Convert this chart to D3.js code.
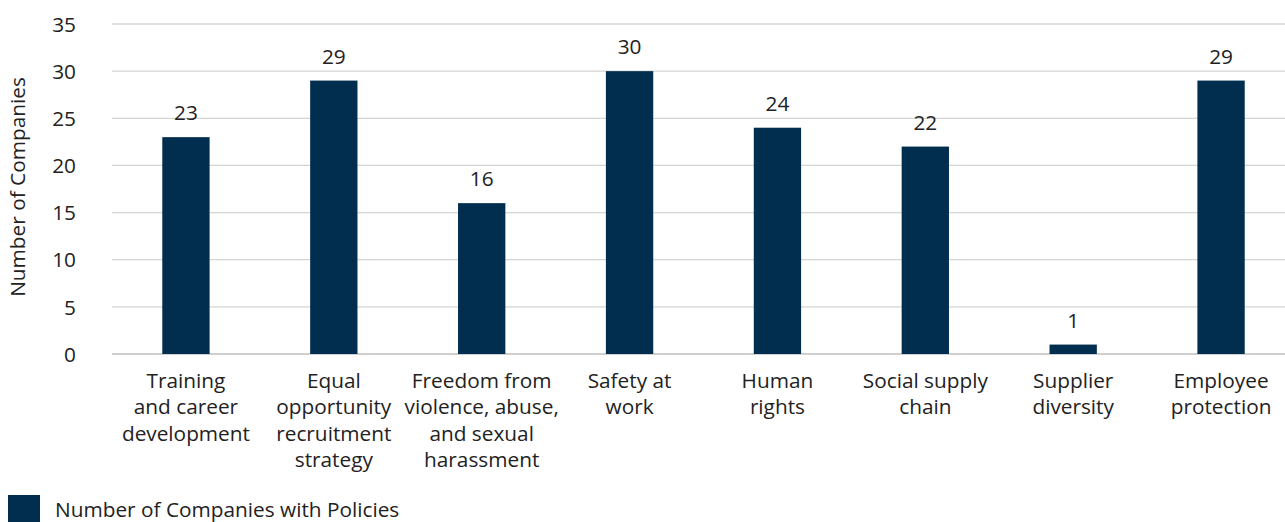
<!DOCTYPE html>
<html><head><meta charset="utf-8">
<script src="https://cdn.jsdelivr.net/npm/d3@7"></script>
<style>body{margin:0;background:#fff}svg{display:block}text{font-family:"Open Sans","Noto Sans",sans-serif;fill:#222}</style>
</head><body><svg id="c" width="1285" height="522"></svg>
<script>
const categories = [
  ["Training","and career","development"],
  ["Equal","opportunity","recruitment","strategy"],
  ["Freedom from","violence, abuse,","and sexual","harassment"],
  ["Safety at","work"],
  ["Human","rights"],
  ["Social supply","chain"],
  ["Supplier","diversity"],
  ["Employee","protection"]
];
const values = [23, 29, 16, 30, 24, 22, 1, 29];
const yTicks = [0, 5, 10, 15, 20, 25, 30, 35];
const seriesName = "Number of Companies with Policies";
const yTitle = "Number of Companies";

const FS = "20.8px";
const svg = d3.select("#c");
const color = "#012e4f";
const x = d3.scaleBand().domain(d3.range(categories.length)).range([112, 1295]).paddingInner(0.68).paddingOuter(0.34);
const y = d3.scaleLinear().domain([0, 35]).range([354, 24]);

svg.append("g").selectAll("line").data(yTicks).join("line")
  .attr("x1", 112).attr("x2", 1285)
  .attr("y1", d => y(d)).attr("y2", d => y(d))
  .attr("stroke", d => d === 0 ? "#bfbfbf" : "#d4d4d4").attr("stroke-width", 1.3);

const yAxis = d3.axisLeft(y).tickValues(yTicks).tickSize(0).tickPadding(0);
const gy = svg.append("g").attr("transform", "translate(76,0)").call(yAxis);
gy.select(".domain").remove();
gy.selectAll("text").style("font-size", FS).attr("fill", "#222").attr("dy", "0.35em")
  .style("font-family", '"Open Sans","Noto Sans",sans-serif');

svg.append("g").selectAll("rect").data(values).join("rect")
  .attr("x", (d, i) => x(i)).attr("width", x.bandwidth())
  .attr("y", d => y(d)).attr("height", d => y(0) - y(d))
  .attr("fill", color);

svg.append("g").selectAll("text").data(values).join("text")
  .attr("x", (d, i) => x(i) + x.bandwidth() / 2)
  .attr("y", d => y(d) - 17)
  .attr("text-anchor", "middle").style("font-size", FS)
  .text(d => d);

const gx = svg.append("g");
categories.forEach((lines, i) => {
  const cx = x(i) + x.bandwidth() / 2;
  const t = gx.append("text").attr("x", cx).attr("y", 388)
    .attr("text-anchor", "middle").style("font-size", FS);
  lines.forEach((l, j) => t.append("tspan").attr("x", cx).attr("dy", j === 0 ? 0 : 26.3).text(l));
});

svg.append("text").attr("transform", "translate(25,187) rotate(-90)")
  .attr("text-anchor", "middle").style("font-size", FS).text(yTitle);

svg.append("rect").attr("x", 8).attr("y", 495).attr("width", 32).attr("height", 30).attr("fill", color);
svg.append("text").attr("x", 55).attr("y", 517).style("font-size", FS).text(seriesName);
</script></body></html>
